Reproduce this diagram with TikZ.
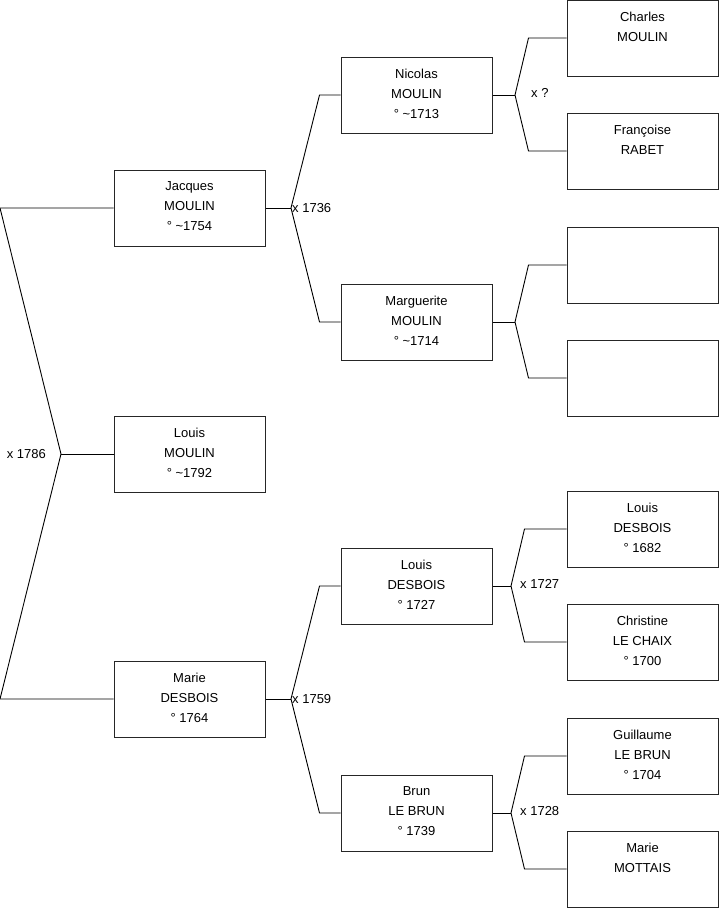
\documentclass[tikz,border=0pt]{standalone}
\usepackage{fontspec}
\setmainfont{Liberation Sans}
\usetikzlibrary{positioning}
\tikzset{
  person/.style={draw=black!85, line width=1pt, minimum width=151pt, minimum height=76pt,
    inner sep=0pt, align=center, text depth=3pt, font=\fontsize{13}{20}\selectfont},
  link/.style={line width=0.9pt},
  wed/.style={font=\fontsize{13}{14}\selectfont, inner sep=0pt}
}
\newcommand{\bap}{°~\textasciitilde}

\begin{document}
\begin{tikzpicture}[x=1pt,y=-1pt]
\useasboundingbox (0,0) rectangle (719,908);
% first generation
\node[person] (jacques) at (189.5,208) {Jacques\\MOULIN\\\bap1754};
\node[person] (louis) at (189.5,454) {Louis\\MOULIN\\\bap1792};
\node[person] (marie) at (189.5,699) {Marie\\DESBOIS\\° 1764};
% parents
\node[person] (nicolas) at (416.5,95) {Nicolas\\MOULIN\\\bap1713};
\node[person] (marguerite) at (416.5,322) {Marguerite\\MOULIN\\\bap1714};
\node[person] (louisd) at (416.5,586) {Louis\\DESBOIS\\° 1727};
\node[person] (brun) at (416.5,813) {Brun\\LE BRUN\\° 1739};
% grandparents
\node[person] (charles) at (642.5,38) {Charles\\MOULIN\\\mbox{}};
\node[person] (francoise) at (642.5,151) {Françoise\\RABET\\\mbox{}};
\node[person] (blank1) at (642.5,265) {};
\node[person] (blank2) at (642.5,378) {};
\node[person] (louisdd) at (642.5,529) {Louis\\DESBOIS\\° 1682};
\node[person] (christine) at (642.5,642) {Christine\\LE CHAIX\\° 1700};
\node[person] (guillaume) at (642.5,756) {Guillaume\\LE BRUN\\° 1704};
\node[person] (mariem) at (642.5,869) {Marie\\MOTTAIS\\\mbox{}};

% root fork
\coordinate (r) at (61,454);
\coordinate (r1) at (0,208);
\coordinate (r2) at (0,699);
\draw[link] (jacques.west) -- (r1) -- (r) -- (r2) -- (marie.west);
\draw[link] (r) -- (louis.west);
\node[wed, anchor=east] (w0) at ([xshift=-15pt]r) {x 1786};

% marriages of the parents
\coordinate (m1) at (291,208);
\coordinate (m2) at (291,699);
\draw[link] (jacques.east) -- (m1);
\draw[link] (nicolas.west) -- ([xshift=-21pt]nicolas.west) -- (m1)
  -- ([xshift=-21pt]marguerite.west) -- (marguerite.west);
\draw[link] (marie.east) -- (m2);
\draw[link] (louisd.west) -- ([xshift=-21pt]louisd.west) -- (m2)
  -- ([xshift=-21pt]brun.west) -- (brun.west);
\node[wed, anchor=west] (w1) at ([xshift=1pt]m1) {x 1736};
\node[wed, anchor=west] (w2) at ([xshift=1pt]m2) {x 1759};

% marriages of the grandparents
\coordinate (m3) at (515,95);
\coordinate (m4) at (515,322);
\coordinate (m5) at (511,586);
\coordinate (m6) at (511,813);
\draw[link] (nicolas.east) -- (m3);
\draw[link] (charles.west) -- ([xshift=-38pt]charles.west) -- (m3)
  -- ([xshift=-38pt]francoise.west) -- (francoise.west);
\draw[link] (marguerite.east) -- (m4);
\draw[link] (blank1.west) -- ([xshift=-38pt]blank1.west) -- (m4)
  -- ([xshift=-38pt]blank2.west) -- (blank2.west);
\draw[link] (louisd.east) -- (m5);
\draw[link] (louisdd.west) -- ([xshift=-42pt]louisdd.west) -- (m5)
  -- ([xshift=-42pt]christine.west) -- (christine.west);
\draw[link] (brun.east) -- (m6);
\draw[link] (guillaume.west) -- ([xshift=-42pt]guillaume.west) -- (m6)
  -- ([xshift=-42pt]mariem.west) -- (mariem.west);
\node[wed, anchor=west] (w3) at ([xshift=16pt,yshift=2pt]m3) {x ?};
\node[wed, anchor=west] (w5) at ([xshift=9pt,yshift=2pt]m5) {x 1727};
\node[wed, anchor=west] (w6) at ([xshift=9pt,yshift=2pt]m6) {x 1728};
\end{tikzpicture}
\end{document}
